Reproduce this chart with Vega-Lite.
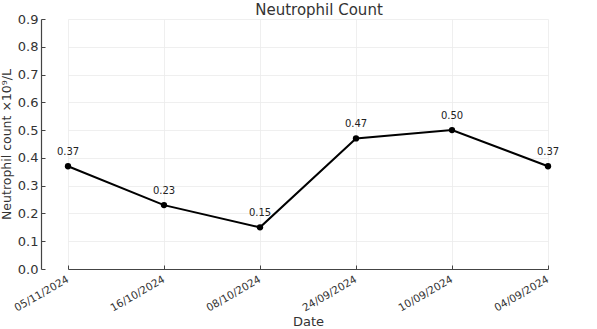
{
  "$schema": "https://vega.github.io/schema/vega-lite/v6.json",
  "width": 556,
  "height": 250,
  "autosize": {"type": "none"},
  "padding": {"left": 41, "top": 19, "right": 0, "bottom": 60},
  "background": "white",
  "title": {"text": "Neutrophil Count", "fontSize": 15, "font": "DejaVu Sans", "fontWeight": "normal", "color": "#333333", "offset": -5, "anchor": "middle"},
  "config": {
    "view": {"stroke": null},
    "axis": {"labelFont": "DejaVu Sans", "titleFont": "DejaVu Sans", "labelColor": "#333333", "titleColor": "#333333", "titleFontWeight": "normal", "domainColor": "#444444", "tickColor": "#444444", "gridColor": "#ebebeb", "gridWidth": 0.8}
  },
  "data": {"values": [
    {"date": "05/11/2024", "value": 0.37},
    {"date": "16/10/2024", "value": 0.23},
    {"date": "08/10/2024", "value": 0.15},
    {"date": "24/09/2024", "value": 0.47},
    {"date": "10/09/2024", "value": 0.50},
    {"date": "04/09/2024", "value": 0.37}
  ]},
  "encoding": {
    "x": {"field": "date", "type": "ordinal", "sort": null,
      "scale": {"type": "point", "range": [27, 507], "padding": 0},
      "axis": {"title": "Date", "labelAngle": -30, "labelAlign": "right", "labelBaseline": "top", "labelFontSize": 10.5, "labelOffset": -3, "titleFontSize": 13, "tickSize": -4, "labelPadding": 9, "titlePadding": 2, "grid": true, "domainWidth": 1.2}},
    "y": {"field": "value", "type": "quantitative",
      "scale": {"domain": [0, 0.9], "nice": false},
      "axis": {"title": "Neutrophil count ×10⁹/L", "values": [0, 0.1, 0.2, 0.3, 0.4, 0.5, 0.6, 0.7, 0.8, 0.9], "format": ".1f", "labelFontSize": 13, "titleFontSize": 12.5, "tickSize": -4, "labelPadding": 7, "titlePadding": 4, "grid": true, "domainWidth": 1.2}}
  },
  "layer": [
    {"mark": {"type": "line", "color": "black", "strokeWidth": 2}},
    {"mark": {"type": "point", "filled": true, "color": "black", "size": 40, "opacity": 1}},
    {"mark": {"type": "text", "dy": -14, "fontSize": 10, "font": "DejaVu Sans", "color": "#222222"},
     "encoding": {"text": {"field": "value", "type": "quantitative", "format": ".2f"}}}
  ]
}
